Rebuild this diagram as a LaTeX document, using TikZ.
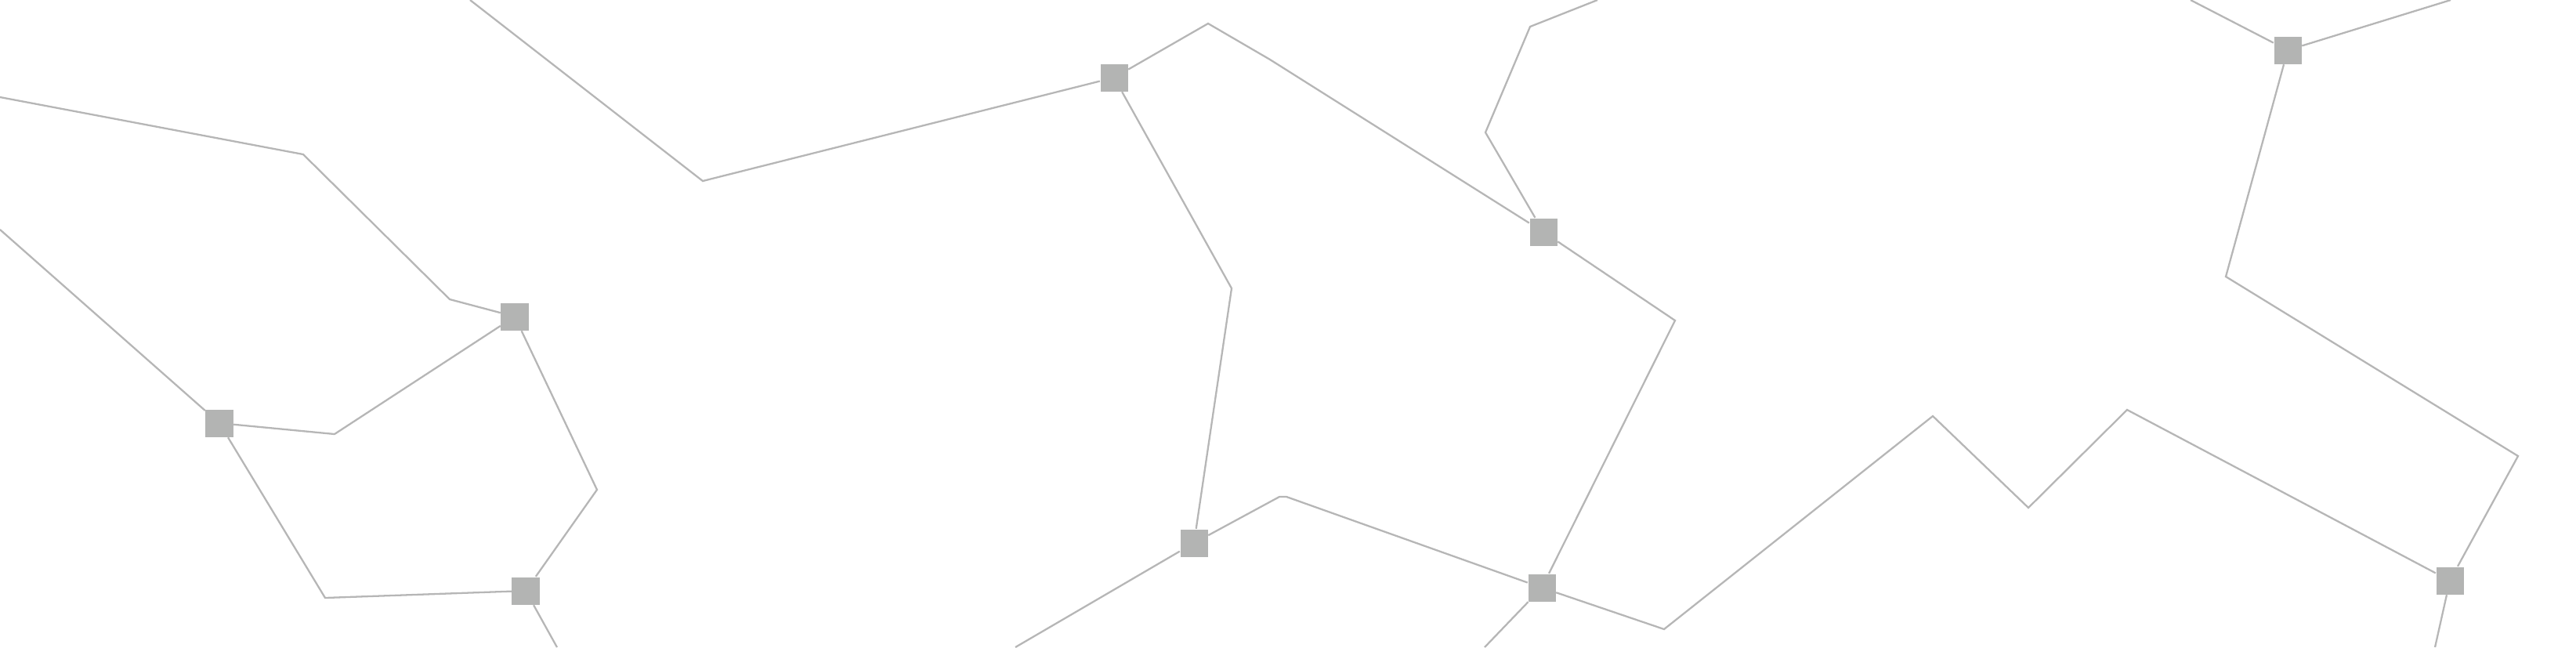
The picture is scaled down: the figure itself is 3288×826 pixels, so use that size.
\documentclass[tikz,border=0pt]{standalone}
\usetikzlibrary{positioning}
\definecolor{hubgray}{RGB}{179,180,179}
\definecolor{linkgray}{RGB}{182,182,182}
\begin{document}
\begin{tikzpicture}[x=0.01cm, y=-0.01cm,
      hub/.style={rectangle, fill=hubgray, inner sep=0pt, minimum size=0.35cm},
      link/.style={draw=linkgray, line width=0.65pt}
    ]
    \useasboundingbox (0,0) rectangle (3288,826);
    % junctions
    \node[hub] (j1) at (657,404) {};
    \node[hub] (j2) at (280,540) {};
    \node[hub] (j3) at (1422,99) {};
    \node[hub] (j4) at (671,754) {};
    \node[hub] (j5) at (1970,296) {};
    \node[hub] (j6) at (1524,693) {};
    \node[hub] (j7) at (1968,750) {};
    \node[hub] (j8) at (3127,741) {};
    \node[hub] (j9) at (2920,64) {};
    % loose ends on the border
    \coordinate (w1) at (0,124);
    \coordinate (w2) at (0,293);
    \coordinate (n1) at (600,0);
    \coordinate (n2) at (2039,0);
    \coordinate (n3) at (2796,0);
    \coordinate (n4) at (3128,0);
    \coordinate (s1) at (711,826);
    \coordinate (s2) at (1296,826);
    \coordinate (s3) at (1895,826);
    \coordinate (s4) at (3108,826);
    % left part
    \draw[link] (w1) -- (387,197) -- (574,382) -- (j1);
    \draw[link] (w2) -- (j2);
    \draw[link] (j2) -- (427,554) -- (j1);
    \draw[link] (j1) -- (762,625) -- (j4);
    \draw[link] (j2) -- (415,763) -- (j4);
    \draw[link] (j4) -- (s1);
    % middle part
    \draw[link] (n1) -- (897,231) -- (j3);
    \draw[link] (j3) -- (1542,30) -- (1621,76) -- (j5);
    \draw[link] (j3) -- (1572,368) -- (j6);
    \draw[link] (s2) -- (j6);
    \draw[link] (j6) -- (1633,634) -- (1642,634) -- (j7);
    \draw[link] (j5) -- (1896,169) -- (1953,34) -- (n2);
    \draw[link] (j5) -- (2138,409) -- (j7);
    \draw[link] (j7) -- (s3);
    % right part
    \draw[link] (j7) -- (2124,803) -- (2467,531) -- (2589,648) -- (2715,523) -- (j8);
    \draw[link] (j8) -- (3214,582) -- (2841,353) -- (j9);
    \draw[link] (j9) -- (n3);
    \draw[link] (j9) -- (n4);
    \draw[link] (j8) -- (s4);
\end{tikzpicture}
\end{document}
